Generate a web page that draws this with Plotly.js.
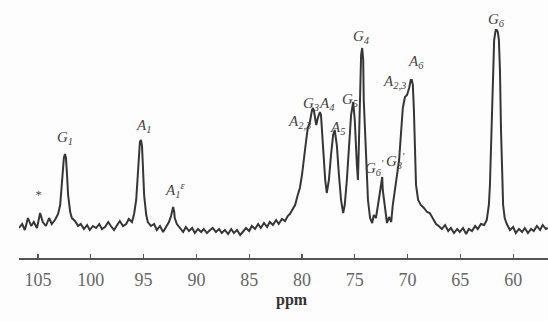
<!DOCTYPE html>
<html>
<head>
<meta charset="utf-8">
<script src="https://cdn.plot.ly/plotly-3.0.1.min.js"></script>
<style>html,body{margin:0;padding:0;background:#fdfdfd;}#chart{width:548px;height:321px;}</style>
</head>
<body>
<div id="chart"></div>
<script>
// Chemical shift (ppm) and intensity (arbitrary units)
const ppm = [106.8,106.5,106.25,105.95,105.65,105.4,105.1,104.8,104.55,104.25,103.95,103.7,103.4,103.1,102.9,102.75,102.65,102.55,102.45,102.35,102.25,102.15,101.95,101.8,101.5,101.2,100.95,100.65,100.35,100.1,99.8,99.5,99.2,98.95,98.65,98.35,98.1,97.8,97.5,97.25,96.95,96.65,96.4,96.1,95.9,95.7,95.55,95.45,95.35,95.25,95.15,95.05,94.95,94.75,94.6,94.3,94.0,93.75,93.45,93.15,92.9,92.6,92.4,92.3,92.2,92.1,92.05,91.85,91.55,91.25,91.0,90.7,90.4,90.15,89.85,89.55,89.3,89.0,88.7,88.45,88.15,87.85,87.6,87.3,87.0,86.7,86.45,86.15,85.85,85.6,85.3,85.0,84.75,84.45,84.15,83.9,83.6,83.3,83.05,82.75,82.45,82.2,81.9,81.6,81.35,81.15,80.95,80.65,80.4,80.2,80.0,79.8,79.6,79.45,79.25,79.05,78.95,78.85,78.65,78.5,78.3,78.2,78.0,77.8,77.65,77.45,77.25,77.05,76.9,76.7,76.5,76.3,76.1,75.95,75.75,75.55,75.35,75.15,75.0,74.8,74.7,74.6,74.5,74.4,74.3,74.2,74.15,73.95,73.75,73.55,73.35,73.2,73.0,72.8,72.6,72.5,72.4,72.35,72.15,71.95,71.75,71.55,71.4,71.2,71.0,70.8,70.6,70.45,70.25,70.05,69.85,69.7,69.6,69.5,69.4,69.3,69.2,69.0,68.75,68.45,68.15,67.9,67.6,67.3,67.05,66.75,66.45,66.15,65.9,65.6,65.3,65.05,64.75,64.45,64.2,63.9,63.6,63.35,63.05,62.75,62.5,62.3,62.2,62.1,62.0,61.9,61.8,61.7,61.65,61.55,61.45,61.35,61.25,61.15,61.05,60.95,60.8,60.6,60.3,60.0,59.75,59.45,59.15,58.9,58.6,58.3,58.05,57.75,57.45,57.2,56.9,56.7];
const intensity = [30,34,28,40,32,36,30,45,36,32,40,34,38,44,53,73,88,100,104,100,83,63,46,40,37,32,34,29,33,28,32,30,34,29,31,36,32,28,33,37,32,34,39,36,44,58,83,103,116,118,112,88,63,43,36,32,34,28,32,26,31,36,42,48,51,46,40,34,30,26,31,27,30,25,29,26,29,25,28,30,26,29,25,28,24,29,25,28,23,26,30,27,32,29,34,30,35,31,36,33,38,34,39,37,42,44,48,53,63,70,83,98,118,130,136,148,150,146,133,140,146,143,108,78,65,78,103,123,128,113,83,58,45,53,78,108,143,156,138,93,78,118,178,203,210,198,158,98,58,40,35,43,40,53,68,78,81,68,48,35,41,36,53,68,81,98,128,150,161,163,170,178,178,173,148,108,73,58,53,50,46,45,40,34,32,29,33,27,30,25,29,26,30,24,29,27,32,29,34,33,38,53,73,108,158,198,218,225,228,228,226,218,188,128,78,53,40,34,28,31,25,29,26,30,25,29,27,32,28,33,29,30];
const tickValues = [105,100,95,90,85,80,75,70,65,60];
const tickLabels = ['105','100','95','90','85','80','75','70','65','60'];
const peakNames = ['*','G<sub>1</sub>','A<sub>1</sub>','A<sub>1</sub><sup>ε</sup>','A<sub>2,3</sub>','G<sub>3</sub>','A<sub>4</sub>','A<sub>5</sub>','G<sub>5</sub>','G<sub>4</sub>','G<sub>6</sub><sup>\'</sup>','G<sub>3</sub><sup>\'</sup>','A<sub>2,3</sub>','A<sub>6</sub>','G<sub>6</sub>'];
const peakPpm = [105.0,102.45,95.05,92.0,80.2,79.15,77.65,76.6,75.45,74.4,73.1,71.1,71.2,69.2,61.55];
const peakLabelY = [63,120,132,68,136,154,154,130,158,221,90,97,176,196,238];

const serif = '"Liberation Serif", "Times New Roman", serif';
const annotations = peakNames.map((t, i) => ({
  x: peakPpm[i], y: peakLabelY[i], xref: 'x', yref: 'y', text: t, showarrow: false,
  xanchor: 'center', yanchor: 'middle',
  font: {family: serif, size: i === 0 ? 12 : 15, color: '#444', style: 'italic'}
}));
annotations.push({
  xref: 'paper', yref: 'paper', x: (292 - 19) / 529, y: -42 / 258, text: '<b>ppm</b>',
  showarrow: false, xanchor: 'center', yanchor: 'middle',
  font: {family: serif, size: 16, color: '#333'}
});

Plotly.newPlot('chart', [{
  x: ppm, y: intensity, type: 'scatter', mode: 'lines',
  line: {color: '#363636', width: 2}, hoverinfo: 'skip'
}], {
  width: 548, height: 321,
  margin: {l: 19, r: 0, t: 0, b: 63},
  paper_bgcolor: '#fdfdfd', plot_bgcolor: '#fdfdfd',
  showlegend: false,
  font: {family: serif},
  xaxis: {
    range: [106.8, 56.7], showgrid: false, zeroline: false,
    showline: true, linecolor: '#555', linewidth: 1.5,
    ticks: 'inside', ticklen: 4, tickwidth: 1.2, tickcolor: '#555',
    tickvals: tickValues, ticktext: tickLabels,
    tickfont: {family: serif, size: 18, color: '#666'},
    ticklabelstandoff: 5
  },
  yaxis: {range: [0, 258], visible: false, fixedrange: true},
  annotations: annotations
}, {staticPlot: true});
</script>
</body>
</html>
